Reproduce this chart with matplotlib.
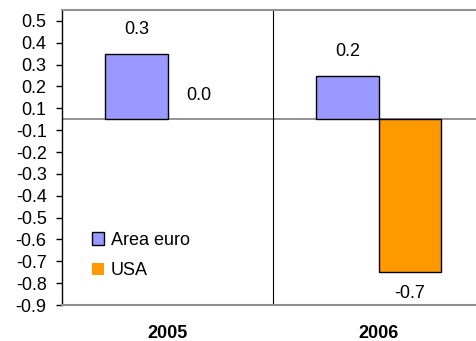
import matplotlib.pyplot as plt
import numpy as np
import math

plt.rcParams['font.family'] = ['Liberation Sans', 'DejaVu Sans']

years = ['2005', '2006']
area_euro = [0.30, 0.20]
usa = [0.0, -0.70]
series_names = ['Area euro', 'USA']
colors = ['#9999FF', '#FF9900']

# axis ticks sit half-way between the tenths (Excel style min of -0.85)
tick_vals = [(k + 0.5) / 10 for k in range(-9, 5)]


def round_label(v):
    r = math.floor(abs(v) * 10 + 0.5 + 1e-9) / 10
    return f"{'-' if v < 0 else ''}{r:.1f}"


FS = 13

fig = plt.figure(figsize=(4.76, 3.41), dpi=100)
ax = fig.add_axes([62 / 476, 36 / 341, 422 / 476, 295 / 341])

x = np.arange(len(years))
w = 0.295
b1 = ax.bar(x - w / 2, area_euro, w, color=colors[0], edgecolor='black', linewidth=1,
            label=series_names[0], zorder=3)
b2 = ax.bar(x + w / 2, usa, w, color=colors[1], edgecolor='black', linewidth=1,
            label=series_names[1], zorder=3)

# value labels; zero-height bars get no outline
for rect, v in zip(list(b1) + list(b2), area_euro + usa):
    cx = rect.get_x() + rect.get_width() / 2
    if v == 0:
        rect.set_linewidth(0)
    off = 24 if v >= 0 else -21
    ax.annotate(f'{v:.1f}', (cx, v), xytext=(0, off), textcoords='offset pixels',
                ha='center', va='center', fontsize=FS)

ax.set_xlim(-0.5, 1.5)
ax.set_ylim(-0.85, 0.5)
ax.set_yticks(tick_vals)
ax.set_yticklabels([round_label(v) for v in tick_vals], fontsize=FS)
ax.tick_params(axis='y', direction='out', length=4, width=1, color='black', pad=7)

ax.set_xticks([])
for i, yr in enumerate(years):
    ax.text(i, -0.85 - 28 / 218, yr, ha='center', va='center',
            fontsize=FS, fontweight='bold')

ax.axhline(0, color='#808080', linewidth=1.2, zorder=2)
ax.axvline(0.5, color='black', linewidth=0.8, zorder=2)

ax.spines['left'].set_color('black')
ax.spines['left'].set_linewidth(1)
for s in ['top', 'bottom']:
    ax.spines[s].set_color('#909090')
    ax.spines[s].set_linewidth(1.5)
ax.spines['right'].set_visible(False)

ax.legend(loc='lower left', bbox_to_anchor=(0.053, 0.062), frameon=False, fontsize=FS,
          handlelength=0.67, handleheight=0.67, handletextpad=0.4, labelspacing=0.75,
          borderaxespad=0)

fig.savefig('out.png', dpi=100)
